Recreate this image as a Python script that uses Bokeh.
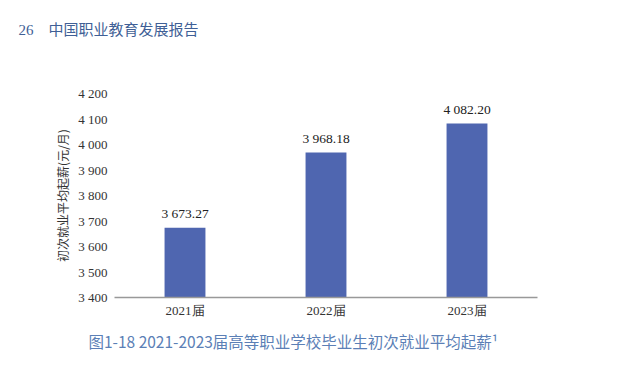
from bokeh.plotting import figure
from bokeh.models import ColumnDataSource, FixedTicker, Range1d, FactorRange, Title
from bokeh.embed import file_html
from bokeh.resources import INLINE
from bokeh.core.properties import value

categories = ["2021届", "2022届", "2023届"]
salaries = [3673.27, 3968.18, 4082.20]
salary_labels = ["3 673.27", "3 968.18", "4 082.20"]
y_ticks = [3400, 3500, 3600, 3700, 3800, 3900, 4000, 4100, 4200]
y_tick_labels = ["3 400", "3 500", "3 600", "3 700", "3 800", "3 900", "4 000", "4 100", "4 200"]
y_title = "初次就业平均起薪(元/月)"
header_page = "26"
header_text = "中国职业教育发展报告"
caption = "图1-18  2021-2023届高等职业学校毕业生初次就业平均起薪¹"

W = 623
src = ColumnDataSource(dict(cat=categories, val=salaries, lab=salary_labels))

p = figure(width=W, height=376, output_backend="svg", toolbar_location=None,
           x_range=FactorRange(*categories, range_padding=0.0),
           y_range=Range1d(3400, 4200),
           min_border_left=114, min_border_right=86, min_border_top=93, min_border_bottom=79)
p.outline_line_color = None
p.grid.grid_line_color = None

p.vbar(x="cat", top="val", bottom=3400, width=0.29, source=src,
       fill_color="#4f66b0", line_color=None)
p.text(x="cat", y="val", text="lab", source=src, text_align="center",
       text_baseline="bottom", y_offset=-7, text_font=value("Liberation Serif"),
       text_font_size="13.5px", text_color="#222222")

ya = p.yaxis[0]
ya.ticker = FixedTicker(ticks=y_ticks)
ya.major_label_overrides = {t: l for t, l in zip(y_ticks, y_tick_labels)}
ya.axis_line_color = None
ya.major_tick_line_color = None
ya.minor_tick_line_color = None
ya.major_tick_out = 0
ya.major_tick_in = 0
ya.minor_tick_out = 0
ya.major_label_standoff = 7
ya.major_label_text_font = "Liberation Serif"
ya.major_label_text_font_size = "13px"
ya.major_label_text_color = "#333333"
ya.axis_label = y_title
ya.axis_label_text_font = "Noto Sans CJK SC"
ya.axis_label_text_font_style = "normal"
ya.axis_label_text_font_size = "12px"
ya.axis_label_text_color = "#333333"
ya.axis_label_standoff = 4

xa = p.xaxis[0]
xa.axis_line_color = "#999999"
xa.axis_line_width = 1.5
xa.major_tick_line_color = None
xa.minor_tick_line_color = None
xa.major_tick_out = 0
xa.major_tick_in = 0
xa.minor_tick_out = 0
xa.major_label_standoff = 5
xa.major_label_text_font = "Liberation Serif"
xa.major_label_text_font_size = "13px"
xa.major_label_text_color = "#333333"

# spacer (closest to the frame) pushes the running header up to the page top
p.add_layout(Title(text=" ", standoff=43, text_font_size="10px", text_color="white"), "above")
p.add_layout(Title(text=header_page + "\u3000" + header_text, align="left", offset=-96, standoff=0,
                   text_font="Liberation Serif, Noto Sans CJK SC", text_font_style="normal",
                   text_font_size="15px", text_color="#3f5f96"), "above")
p.add_layout(Title(text=caption, align="left", offset=-26, standoff=14,
                   text_font="Noto Sans CJK SC", text_font_style="normal",
                   text_font_size="15.5px", text_color="#5b7fb6"), "below")

open("out.html", "w").write(file_html(p, INLINE))
